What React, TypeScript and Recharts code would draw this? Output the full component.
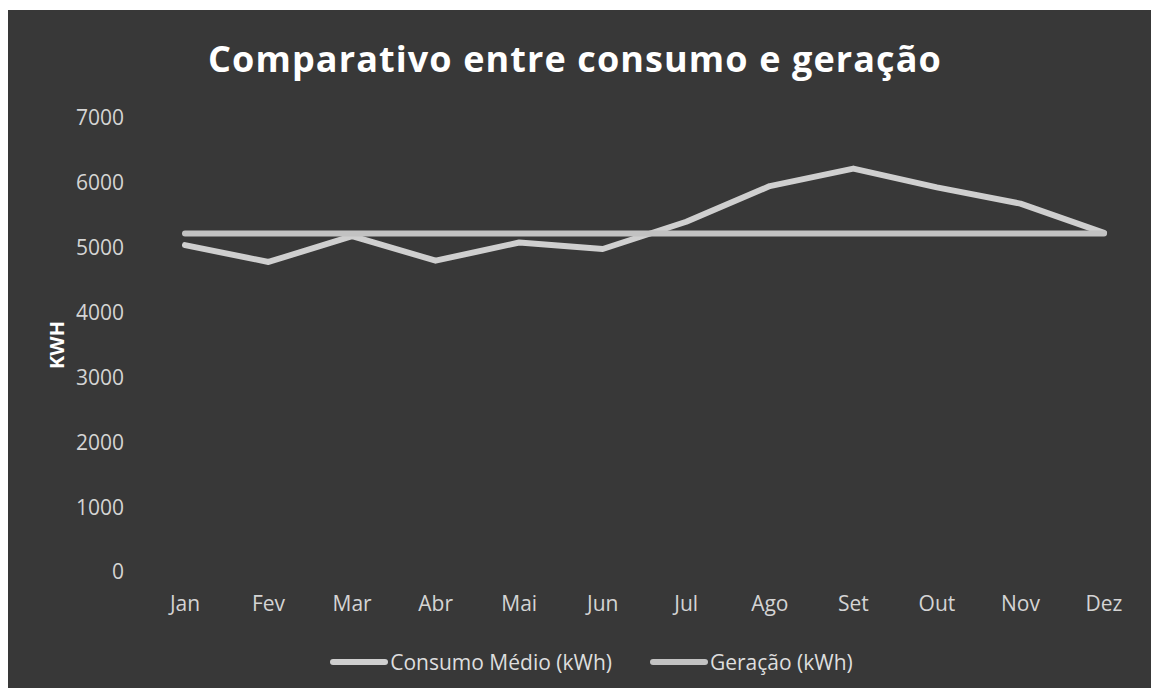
import React from 'react'
import { LineChart, Line, XAxis, YAxis, Legend, Label } from 'recharts'

const months = ['Jan', 'Fev', 'Mar', 'Abr', 'Mai', 'Jun', 'Jul', 'Ago', 'Set', 'Out', 'Nov', 'Dez']
const consumoMedio = [5040, 4780, 5180, 4800, 5080, 4980, 5400, 5950, 6220, 5930, 5680, 5230]
const geracao = [5220, 5220, 5220, 5220, 5220, 5220, 5220, 5220, 5220, 5220, 5220, 5220]
const yTicks = [0, 1000, 2000, 3000, 4000, 5000, 6000, 7000]

const data = months.map((mes, i) => ({
  mes,
  consumo: consumoMedio[i],
  geracao: geracao[i]
}))

const FONT = '"Open Sans", sans-serif'
const TICK = { fill: '#d4d4d4', fontSize: 21, fontFamily: FONT }

const series = [
  { key: 'consumo', name: 'Consumo Médio (kWh)', color: '#cfcfcf' },
  { key: 'geracao', name: 'Geração (kWh)', color: '#c2c2c2' }
]

const LegendContent = () => (
  <div style={{ display: 'flex', justifyContent: 'center', alignItems: 'center', gap: 38, paddingLeft: 16, fontFamily: FONT, fontSize: 21, color: '#dedede' }}>
    {series.map(s => (
      <div key={s.key} style={{ display: 'flex', alignItems: 'center' }}>
        <div style={{ width: 58, height: 6, background: s.color, marginRight: 2, borderRadius: 3 }} />
        <span>{s.name}</span>
      </div>
    ))}
  </div>
)

export default function App() {
  return (
    <div style={{ position: 'relative', width: 1151, height: 678, marginTop: 2, background: '#383838' }}>
      <svg width={1151} height={100} style={{ position: 'absolute', left: 0, top: 0, pointerEvents: 'none' }}>
        <text x={567} y={62} textAnchor="middle" fill="#ffffff" fontFamily={FONT} fontWeight="bold" fontSize={36} letterSpacing={1.1}>
          Comparativo entre consumo e geração
        </text>
      </svg>
      <LineChart width={1151} height={678} data={data} margin={{ top: 108, right: 13, bottom: 56, left: 20 }}>
        <XAxis
          dataKey="mes"
          axisLine={false}
          tickLine={false}
          tickSize={0}
          tickMargin={24}
          height={60}
          padding={{ left: 42, right: 42 }}
          tick={TICK}
          interval={0}
        />
        <YAxis
          domain={[0, 7000]}
          ticks={yTicks}
          axisLine={false}
          tickLine={false}
          tickSize={0}
          tickMargin={19}
          width={115}
          tick={TICK}
        >
          <Label
            content={({ viewBox }: any) => {
              const cy = viewBox.y + viewBox.height / 2
              return (
                <text x={48} y={cy} transform={`rotate(-90 48 ${cy})`} textAnchor="middle" dominantBaseline="central" fill="#ffffff" fontFamily={FONT} fontWeight="bold" fontSize={20}>
                  KWH
                </text>
              )
            }}
          />
        </YAxis>
        <Legend
          layout="horizontal"
          verticalAlign="middle"
          align="center"
          content={<LegendContent />}
          wrapperStyle={{ top: 638, left: 0, width: 1151 }}
        />
        {series.map(s => (
          <Line
            key={s.key}
            type="linear"
            dataKey={s.key}
            name={s.name}
            stroke={s.color}
            strokeWidth={6}
            strokeLinejoin="round"
            strokeLinecap="round"
            dot={false}
            activeDot={false}
            isAnimationActive={false}
          />
        ))}
      </LineChart>
    </div>
  )
}
